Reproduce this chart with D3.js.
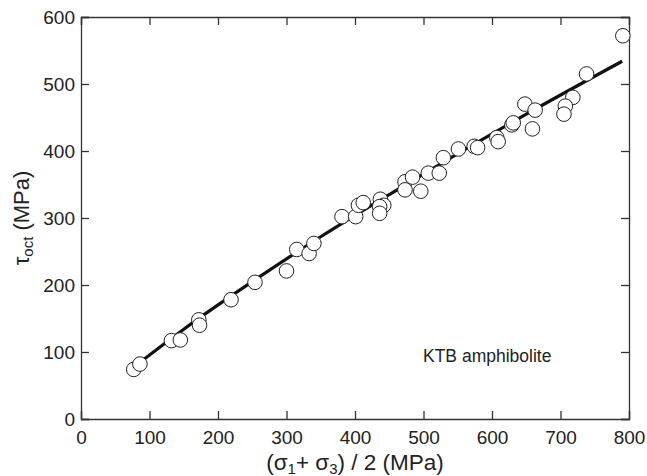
<!DOCTYPE html>
<html>
<head>
<meta charset="utf-8">
<script src="https://cdn.jsdelivr.net/npm/d3@7"></script>
<style>
  body { margin: 0; background: #fff; }
  svg { font-family: "Liberation Sans", Arial, sans-serif; }
</style>
</head>
<body>
<div id="chart"></div>
<script>
// Measured points: mean stress (sigma1+sigma3)/2 vs octahedral shear stress
const meanStress = [77, 86, 132, 145, 172, 173, 219, 254, 300, 315, 333, 340,
    381, 401, 405, 412, 437, 442, 436, 436, 473, 484, 473, 496, 507, 523, 529,
    551, 574, 579, 607, 609, 629, 631, 648, 663, 659, 718, 707, 705, 738, 791];
const tauOct = [74, 82, 117, 118, 148, 140, 178, 204, 221, 253, 247, 262,
    302, 302, 319, 323, 328, 319, 317, 307, 354, 361, 342, 340, 367, 367, 390,
    403, 407, 405, 420, 414, 439, 442, 470, 461, 433, 480, 467, 455, 515, 572];

// Fit curve
const fitX = [80, 125, 150, 250, 350, 450, 550, 650, 790];
const fitY = [80, 115, 134, 205, 272, 335, 396, 455, 534];

const xTicks = [0, 100, 200, 300, 400, 500, 600, 700, 800];
const yTicks = [0, 100, 200, 300, 400, 500, 600];

const width = 647, height = 476;
const margin = { left: 81, right: 18, top: 17, bottom: 57 };

const svg = d3.select('#chart')
    .append('svg')
    .attr('width', width)
    .attr('height', height);

const x = d3.scaleLinear().domain([0, 800]).range([margin.left, width - margin.right]);
const y = d3.scaleLinear().domain([0, 600]).range([height - margin.bottom, margin.top]);

const tickLen = 8;

// Axes with inward ticks on all four sides
const axBottom = svg.append('g')
    .attr('transform', `translate(0,${y(0)})`)
    .call(d3.axisBottom(x).tickValues(xTicks).tickSize(-tickLen).tickPadding(12));
const axLeft = svg.append('g')
    .attr('transform', `translate(${x(0)},0)`)
    .call(d3.axisLeft(y).tickValues(yTicks).tickSize(-tickLen).tickPadding(6));
const axTop = svg.append('g')
    .attr('transform', `translate(0,${y(600)})`)
    .call(d3.axisTop(x).tickValues(xTicks).tickSize(-tickLen).tickFormat(''));
const axRight = svg.append('g')
    .attr('transform', `translate(${x(800)},0)`)
    .call(d3.axisRight(y).tickValues(yTicks).tickSize(-tickLen).tickFormat(''));

[axBottom, axLeft, axTop, axRight].forEach(g => {
    g.select('.domain').attr('stroke', '#333').attr('stroke-width', 1.3);
    g.selectAll('.tick line').attr('stroke', '#333').attr('stroke-width', 1.3);
    g.selectAll('.tick text')
        .attr('font-size', 19)
        .attr('fill', '#222')
        .attr('font-family', '"Liberation Sans", Arial, sans-serif');
});

// Fit line
const line = d3.line()
    .x((d, i) => x(fitX[i]))
    .y((d, i) => y(fitY[i]))
    .curve(d3.curveMonotoneX);

svg.append('path')
    .datum(fitX)
    .attr('d', line)
    .attr('fill', 'none')
    .attr('stroke', '#111')
    .attr('stroke-width', 3.2);

// Data points
svg.append('g')
    .selectAll('circle')
    .data(meanStress)
    .join('circle')
    .attr('cx', d => x(d))
    .attr('cy', (d, i) => y(tauOct[i]))
    .attr('r', 7.3)
    .attr('fill', '#fff')
    .attr('stroke', '#222')
    .attr('stroke-width', 1);

// Annotation
svg.append('text')
    .attr('x', x(593))
    .attr('y', y(85))
    .attr('text-anchor', 'middle')
    .attr('font-size', 17.5)
    .attr('fill', '#222')
    .text('KTB amphibolite');

// X axis title
const xt = svg.append('text')
    .attr('x', x(400))
    .attr('y', 470)
    .attr('text-anchor', 'middle')
    .attr('font-size', 22.5)
    .attr('fill', '#222');
xt.append('tspan').text('(σ');
xt.append('tspan').attr('font-size', 15).attr('dy', 4).text('1');
xt.append('tspan').attr('dy', -4).text('+ σ');
xt.append('tspan').attr('font-size', 15).attr('dy', 4).text('3');
xt.append('tspan').attr('dy', -4).text(') / 2 (MPa)');

// Y axis title
const yt = svg.append('text')
    .attr('transform', `translate(29,${y(300)}) rotate(-90)`)
    .attr('text-anchor', 'middle')
    .attr('font-size', 22)
    .attr('fill', '#222');
yt.append('tspan').text('τ');
yt.append('tspan').attr('font-size', 15).attr('dy', 4).text('oct');
yt.append('tspan').attr('dy', -4).text(' (MPa)');
</script>
</body>
</html>
